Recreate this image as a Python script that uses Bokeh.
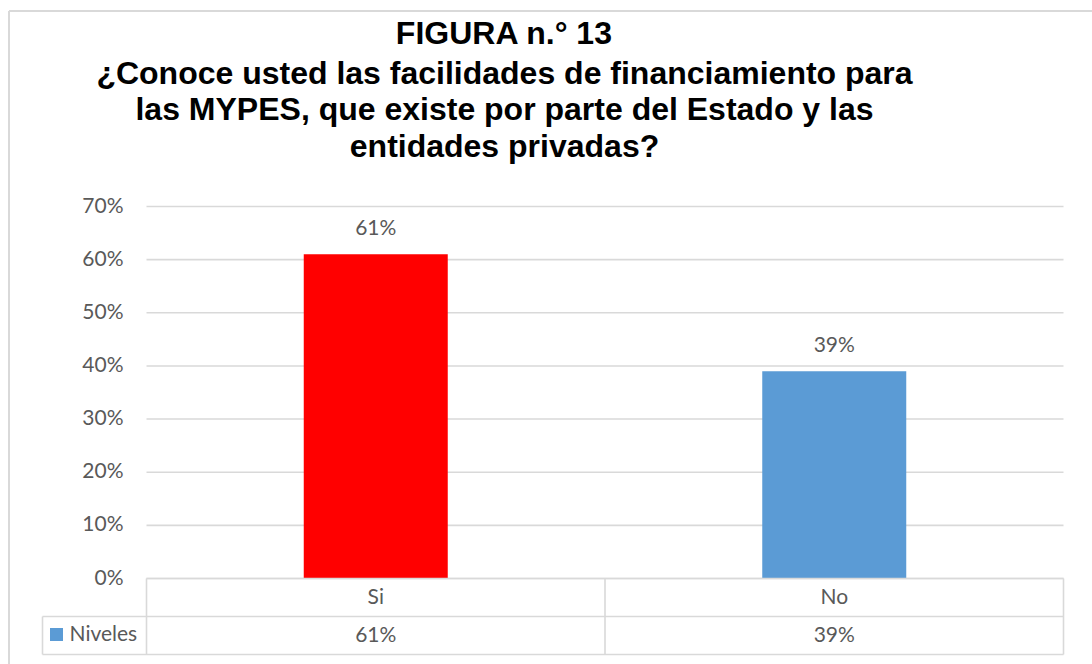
from bokeh.plotting import figure
from bokeh.models import Range1d
from bokeh.core.properties import value
from bokeh.embed import file_html
from bokeh.resources import INLINE

# ---------------- data ----------------
categories = ["Si", "No"]
values = [61, 39]
bar_colors = ["#FF0000", "#5B9BD5"]
value_labels = ["61%", "39%"]
series_name = "Niveles"
series_color = "#5B9BD5"
y_ticks = [0, 10, 20, 30, 40, 50, 60, 70]
y_tick_labels = ["0%", "10%", "20%", "30%", "40%", "50%", "60%", "70%"]
title_lines = [
    "FIGURA n.° 13",
    "¿Conoce usted las facilidades de financiamiento para",
    "las MYPES, que existe por parte del Estado y las",
    "entidades privadas?",
]

# ---------------- layout (page pixels) ----------------
W, H = 1092, 664
PAGE_X0, PAGE_Y0 = 0, 0
PLOT_L, PLOT_R = 146, 1063
Y_BOTTOM_PAGE, Y_TOP_PAGE = 578, 206
Y_MAX = 70
TABLE_L = 42
ROW1_B, ROW2_B = 616, 654
TXT_SHIFT = -2.5  # fine vertical adjustment for text centring

sx = (PLOT_R - PLOT_L) / len(categories)
sy = (Y_BOTTOM_PAGE - Y_TOP_PAGE) / Y_MAX


def dx(px):
    return (px - PLOT_L) / sx


def dy(py):
    return (Y_BOTTOM_PAGE - py) / sy


p = figure(width=W, height=H, output_backend="svg", toolbar_location=None,
           x_range=Range1d(dx(PAGE_X0), dx(PAGE_X0 + W)),
           y_range=Range1d(dy(PAGE_Y0 + H), dy(PAGE_Y0)),
           min_border=0, outline_line_color=None,
           background_fill_color="white", border_fill_color="white")
p.xaxis.visible = False
p.yaxis.visible = False
p.grid.visible = False

GRID = "#D9D9D9"
TXT = "#595959"
FONT = value("Lato")
FS = "21px"
n = len(categories)
xc = [i + 0.5 for i in range(n)]

# chart area border (top & left)
p.segment(x0=[dx(8.5), dx(8.5)], y0=[dy(10.5), dy(10.5)], x1=[dx(8.5), dx(W)],
          y1=[dy(H), dy(10.5)], line_color=GRID, line_width=2)

# gridlines
p.segment(x0=[0] * len(y_ticks), x1=[n] * len(y_ticks), y0=y_ticks, y1=y_ticks,
          line_color=GRID, line_width=1.6)

# y tick labels
p.text(x=[dx(123)] * len(y_ticks), y=y_ticks, text=y_tick_labels, text_align="right",
       text_baseline="middle", y_offset=TXT_SHIFT, text_font=FONT,
       text_font_size=FS, text_color=TXT)

# bars
p.vbar(x=xc, top=values, bottom=0, width=144 / sx, fill_color=bar_colors,
       line_color=None)

# data labels
p.text(x=xc, y=values, text=value_labels, text_align="center",
       text_baseline="middle", y_offset=-25 + TXT_SHIFT, text_font=FONT,
       text_font_size=FS, text_color=TXT)

# data table lines
yr1 = dy(ROW1_B)
yr2 = dy(ROW2_B)
hx0 = [0, dx(TABLE_L), dx(TABLE_L)]
hx1 = [n, n, n]
hy = [0, yr1, yr2]
p.segment(x0=hx0, x1=hx1, y0=hy, y1=hy, line_color=GRID, line_width=1.6)
vx = [i for i in range(n + 1)] + [dx(TABLE_L)]
vy0 = [0] * (n + 1) + [yr1]
vy1 = [yr2] * (n + 2)
p.segment(x0=vx, x1=vx, y0=vy0, y1=vy1, line_color=GRID, line_width=1.6)

# table texts
p.text(x=xc, y=[dy(597.5 + TXT_SHIFT)] * n, text=categories, text_align="center",
       text_baseline="middle", text_font=FONT, text_font_size=FS, text_color=TXT)
p.text(x=xc, y=[dy(635.5 + TXT_SHIFT)] * n, text=value_labels, text_align="center",
       text_baseline="middle", text_font=FONT, text_font_size=FS, text_color=TXT)
p.text(x=[dx(69)], y=[dy(634 + TXT_SHIFT)], text=[series_name], text_align="left",
       text_baseline="middle", text_font=FONT, text_font_size=FS, text_color=TXT)
p.scatter(x=[dx(56)], y=[dy(634)], marker="square", size=13,
          fill_color=series_color, line_color=None)

# title
title_centers = [32.5, 72.5, 108.5, 145]
p.text(x=[dx(504)] * len(title_lines), y=[dy(c) for c in title_centers],
       text=title_lines, text_align="center", text_baseline="middle",
       text_font=value("Liberation Sans"), text_font_style="bold",
       text_font_size="32px", text_color="#000000")

open("out.html", "w").write(file_html(p, INLINE))
